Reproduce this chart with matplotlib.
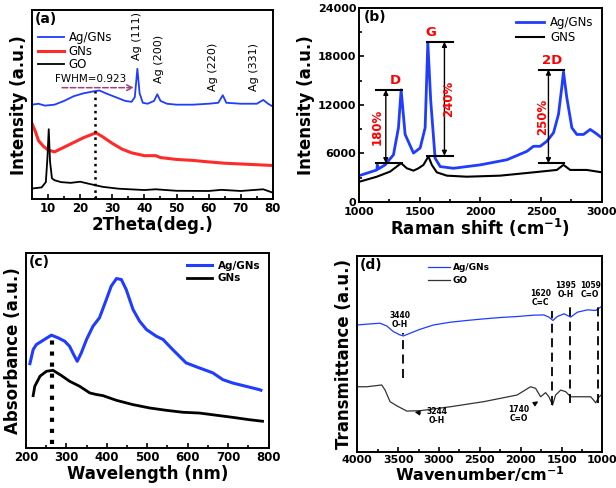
import numpy as np
import matplotlib
matplotlib.use("Agg")
import matplotlib.pyplot as plt
from matplotlib.ticker import AutoMinorLocator

plt.rcParams['font.family'] = 'DejaVu Sans'
plt.rcParams['axes.linewidth'] = 1.4

BLUE = '#1f3cff'
RED = '#ff2a2a'

# (a) XRD
xrd_ag_x = [5, 7, 9, 12, 15, 18, 21, 24, 26, 28, 31, 34, 36, 37, 37.8, 38.5, 39.5, 41, 43, 44, 45, 47,
            50, 55, 60, 63, 64.4, 65.5, 70, 75, 77, 78.5, 80]
xrd_ag_y = [50, 50.5, 49.5, 50, 52, 54.5, 56, 57, 57.5, 56, 54, 52, 51.5, 54, 69, 56, 51, 50.5, 52, 55.5, 52, 50.5,
            50, 50, 50.5, 51, 55, 51, 50.5, 50.5, 52.5, 50.5, 49]
xrd_gn_x = [5, 6, 7, 8.5, 10, 12, 15, 18, 21, 24, 25, 27, 30, 33, 36, 40, 43.5, 45, 50, 55, 60, 65, 70, 75, 80]
xrd_gn_y = [40, 36, 31, 28, 26, 25, 27.5, 30, 32.5, 34.5, 35, 33, 29.5, 26.5, 24.5, 23, 23, 22, 21, 20.5, 19.7,
            19, 18.6, 18.2, 17.8]
xrd_go_x = [5, 8, 9.3, 9.8, 10.2, 10.6, 11.2, 12, 14, 17, 20, 23, 27, 32, 40, 43.5, 50, 60, 64, 70, 77, 80]
xrd_go_y = [5.6, 6.2, 9, 22, 37, 20, 11, 10, 9, 8.6, 9.2, 8, 6.5, 5.5, 4.8, 5.2, 4.4, 4.3, 4.9, 4.3, 5.2, 3.4]
ag_peaks = [37.6, 44.4, 61.3, 74.0]
ag_labels = ['Ag (111)', 'Ag (200)', 'Ag (220)', 'Ag (331)']
ag_label_y = [73.5, 61.5, 57.5, 57.5]

# (b) Raman
ram_ag_x = [1000, 1146, 1150, 1160, 1214, 1283, 1324, 1346, 1379, 1448, 1503, 1544, 1566, 1590, 1626, 1668,
            1777, 1997, 2217, 2382, 2437, 2492, 2547, 2602, 2643, 2670, 2684, 2711, 2753, 2794, 2849, 2904, 2945, 3000]
ram_ag_y = [3255, 3965, 4600, 4100, 4590, 5840, 9180, 13860, 8350, 6050, 6680, 9180, 19700, 12520, 5430, 4380,
            4170, 4590, 5220, 6260, 6890, 6890, 7510, 8560, 10850, 14190, 16070, 12940, 9180, 8350, 8350, 8970,
            8560, 7930]
ram_gn_x = [1000, 1146, 1255, 1310, 1346, 1393, 1448, 1489, 1530, 1571, 1599, 1640, 1723, 1887, 2162, 2437,
            2629, 2684, 2739, 2876, 3000]
ram_gn_y = [2500, 3130, 3760, 4380, 4800, 4170, 3880, 4170, 4590, 5640, 4590, 3670, 3260, 3130, 3260, 3670,
            3965, 4590, 3965, 3965, 3670]
ram_bands = ['D', 'G', '2D']
ram_pct = ['180%', '240%', '250%']
ram_top = [13860, 19790, 16360]
ram_bot = [4800, 5720, 4800]
ram_bar_x0 = [1140, 1558, 2486]
ram_bar_x1 = [1352, 1772, 2692]
ram_arrow_x = [1220, 1703, 2560]
ram_pct_x = [1150, 1735, 2515]
ram_band_x = [1297, 1593, 2590]

# (c) UV-vis
uv_ag_x = [210, 218, 226, 243, 263, 280, 296, 308, 318, 327, 337, 350, 366, 382, 399, 411, 424, 436, 448, 465,
           481, 498, 522, 539, 563, 596, 629, 662, 687, 711, 744, 777, 781]
uv_ag_y = [43.2, 50.4, 53, 55.2, 57.8, 56.4, 54.7, 52.1, 47.9, 44.4, 48.7, 55.6, 62.4, 66.7, 76.1, 82.9, 86.8,
           86.3, 81.2, 70.9, 65, 60.7, 57.3, 55.6, 50.4, 43.6, 41, 38.5, 35, 33.3, 31.6, 29.9, 29.6]
uv_gn_x = [218, 222, 235, 251, 267, 288, 308, 333, 358, 374, 391, 424, 465, 506, 547, 588, 629, 670, 711, 752, 785]
uv_gn_y = [26.8, 31.6, 36.8, 39.3, 39.8, 37.1, 34.2, 31.6, 28.2, 27.4, 26.8, 24.4, 22.2, 20.5, 19.3, 18.3, 17.9,
           16.8, 15.7, 14.5, 13.7]

# (d) FTIR
ir_ag_x = [4000, 3885, 3722, 3640, 3558, 3476, 3435, 3353, 3231, 3067, 2862, 2658, 2453, 2248, 2044, 1839,
           1716, 1655, 1606, 1552, 1470, 1389, 1307, 1184, 1082, 1041, 1000]
ir_ag_y = [64.7, 65.1, 65.6, 64.2, 61.3, 59.6, 59.1, 60.5, 62.5, 64.7, 66.1, 67, 67.8, 68.5, 69, 69.7, 69.8,
           68.7, 67, 69, 70.4, 68.7, 71.2, 72.4, 72.1, 73.3, 74.4]
ir_go_x = [4000, 3885, 3701, 3660, 3599, 3517, 3394, 3231, 2862, 2453, 2044, 1880, 1818, 1757, 1696, 1655,
           1610, 1573, 1511, 1450, 1389, 1266, 1143, 1082, 1041, 1000]
ir_go_y = [33.2, 33.2, 34.1, 31.5, 25.6, 23.5, 20.8, 21, 23, 25.6, 29, 33.2, 32.4, 28.1, 30.2, 28.1, 23.9, 29,
           31.5, 30.7, 28.1, 28.1, 28.1, 25, 28.1, 29.5]
ir_marks = [3440, 1620, 1395, 1059]
ir_mark_text = ['3440\nO-H', '1620\nC=C', '1395\nO-H', '1059\nC=O']
ir_text_x = [3480, 1757, 1446, 1150]
ir_mark_top = [60.5, 72, 75.8, 75.8]
ir_mark_bot = [37.5, 23.9, 24.7, 25]

fig = plt.figure(figsize=(6.16, 4.88), dpi=100)
ax_a = fig.add_axes([0.052, 0.592, 0.391, 0.387])
ax_b = fig.add_axes([0.583, 0.586, 0.394, 0.398])
ax_c = fig.add_axes([0.042, 0.082, 0.394, 0.400])
ax_d = fig.add_axes([0.580, 0.074, 0.398, 0.402])

for ax, fs in ((ax_a, 8.5), (ax_b, 8), (ax_c, 8.5), (ax_d, 8)):
    ax.tick_params(which='both', direction='in', labelsize=fs, width=1.2, pad=2)
    ax.tick_params(which='major', length=3.5)
    ax.tick_params(which='minor', length=2)
    ax.xaxis.set_minor_locator(AutoMinorLocator(2))
ax_b.tick_params(axis='x', pad=3.5)

# ---- (a)
ax_a.plot(xrd_ag_x, xrd_ag_y, color=BLUE, lw=1.3, label='Ag/GNs')
ax_a.plot(xrd_gn_x, xrd_gn_y, color=RED, lw=2.2, label='GNs')
ax_a.plot(xrd_go_x, xrd_go_y, color='black', lw=1.3, label='GO')
ax_a.plot([24.7, 24.7], [0, 57.5], color='black', ls=':', lw=1.8)
ax_a.annotate('', xy=(37.6, 59), xytext=(13.5, 59),
              arrowprops=dict(arrowstyle='->', color='#a0407a', ls='--', lw=1.1))
ax_a.text(12.2, 62, 'FWHM=0.923', fontsize=7.5)
for xp, t, yp in zip(ag_peaks, ag_labels, ag_label_y):
    ax_a.text(xp, yp, t, rotation=90, fontsize=8, ha='center', va='bottom')
ax_a.set_xlim(5, 80)
ax_a.set_ylim(0, 100)
ax_a.set_yticks([])
ax_a.set_xticks(range(10, 81, 10))
ax_a.set_xlabel('2Theta(deg.)', fontsize=12, fontweight='bold', labelpad=1)
ax_a.set_ylabel('Intensity (a.u.)', fontsize=12, fontweight='bold', labelpad=3)
ax_a.text(0.01, 0.99, '(a)', transform=ax_a.transAxes, fontsize=10, fontweight='bold', va='top')
ax_a.legend(loc='upper left', bbox_to_anchor=(0.0, 0.92), frameon=False, fontsize=8.5,
            handlelength=2.2, handletextpad=0.4, labelspacing=0.05, borderaxespad=0.1)

# ---- (b)
ax_b.plot(ram_ag_x, ram_ag_y, color=BLUE, lw=2, label='Ag/GNs')
ax_b.plot(ram_gn_x, ram_gn_y, color='black', lw=1.5, label='GNS')
for i in range(3):
    ax_b.plot([ram_bar_x0[i], ram_bar_x1[i]], [ram_top[i]] * 2, color='black', lw=1.5)
    ax_b.plot([ram_bar_x0[i], ram_bar_x1[i]], [ram_bot[i]] * 2, color='black', lw=1.5)
    ax_b.annotate('', xy=(ram_arrow_x[i], ram_top[i]), xytext=(ram_arrow_x[i], ram_bot[i]),
                  arrowprops=dict(arrowstyle='<|-|>', color='black', lw=1, mutation_scale=7,
                                  shrinkA=0, shrinkB=0))
    ax_b.text(ram_pct_x[i], (ram_top[i] + ram_bot[i]) / 2, ram_pct[i], color='red', rotation=90,
              fontsize=8.5, fontweight='bold', ha='center', va='center')
    ax_b.text(ram_band_x[i], ram_top[i] + 300, ram_bands[i], color='red', fontsize=9.5,
              fontweight='bold', ha='center', va='bottom')
ax_b.set_xlim(1000, 3000)
ax_b.set_ylim(0, 24000)
ax_b.set_xticks(range(1000, 3001, 500))
ax_b.set_yticks(range(0, 24001, 6000))
ax_b.yaxis.set_minor_locator(AutoMinorLocator(2))
ax_b.set_xlabel('Raman shift (cm$^{\\mathbf{-1}}$)', fontsize=12, fontweight='bold', labelpad=0)
ax_b.set_ylabel('Intensity (a.u.)', fontsize=12, fontweight='bold', labelpad=2)
ax_b.text(0.02, 0.99, '(b)', transform=ax_b.transAxes, fontsize=10, fontweight='bold', va='top')
ax_b.legend(loc='upper right', frameon=False, fontsize=8.5, handlelength=2.4, labelspacing=0.2,
            handletextpad=0.5, borderaxespad=0.3)

# ---- (c)
ax_c.plot(uv_ag_x, uv_ag_y, color=BLUE, lw=2.2, label='Ag/GNs')
ax_c.plot(uv_gn_x, uv_gn_y, color='black', lw=2, label='GNs')
ax_c.plot([265, 265], [2.2, 57.5], color='black', ls=':', lw=3)
ax_c.set_xlim(200, 800)
ax_c.set_ylim(0, 100)
ax_c.set_yticks([])
ax_c.set_xticks(range(200, 801, 100))
ax_c.set_xlabel('Wavelength (nm)', fontsize=12, fontweight='bold', labelpad=1)
ax_c.set_ylabel('Absorbance (a.u.)', fontsize=12, fontweight='bold', labelpad=3)
ax_c.text(0.01, 0.99, '(c)', transform=ax_c.transAxes, fontsize=10, fontweight='bold', va='top')
leg = ax_c.legend(loc='upper right', frameon=False, fontsize=7.5, handlelength=2.4, labelspacing=0.2,
                  handletextpad=0.5, borderaxespad=0.4)
for t in leg.get_texts():
    t.set_fontweight('bold')

# ---- (d)
ax_d.plot(ir_ag_x, ir_ag_y, color=BLUE, lw=0.9, label='Ag/GNs')
ax_d.plot(ir_go_x, ir_go_y, color='#333333', lw=0.9, label='GO')
for xm, xt, t, yt, yb in zip(ir_marks, ir_text_x, ir_mark_text, ir_mark_top, ir_mark_bot):
    ax_d.plot([xm, xm], [yb, yt], color='black', ls=(0, (5, 3)), lw=1.3)
    ax_d.text(xt, yt + 2, t, fontsize=5.5, fontweight='bold', ha='center', va='bottom',
              linespacing=1.0)
ax_d.annotate('3244\nO-H', xy=(3330, 20.5), xytext=(3030, 18.5), fontsize=5.5, fontweight='bold',
              ha='center', va='center', linespacing=1.0,
              arrowprops=dict(arrowstyle='-|>', color='black', lw=0.8, mutation_scale=7))
ax_d.annotate('1740\nC=O', xy=(1757, 26.5), xytext=(2020, 19.5), fontsize=5.5, fontweight='bold',
              ha='center', va='center', linespacing=1.0,
              arrowprops=dict(arrowstyle='-|>', color='black', lw=0.8, mutation_scale=7))
ax_d.set_xlim(4000, 1000)
ax_d.set_ylim(0, 100)
ax_d.set_yticks([])
ax_d.set_xticks(range(4000, 999, -500))
ax_d.set_xlabel('Wavenumber/cm$^{\\mathbf{-1}}$', fontsize=11.5, fontweight='bold', labelpad=0)
ax_d.set_ylabel('Transmittance (a.u.)', fontsize=12, fontweight='bold', labelpad=3)
ax_d.text(0.01, 0.99, '(d)', transform=ax_d.transAxes, fontsize=10, fontweight='bold', va='top')
leg = ax_d.legend(loc='upper left', bbox_to_anchor=(0.26, 1.0), frameon=False, fontsize=6.5,
                  handlelength=2.4, labelspacing=0.5, handletextpad=0.3, borderaxespad=0.4)
for t in leg.get_texts():
    t.set_fontweight('bold')

for ax in (ax_a, ax_b, ax_c, ax_d):
    for lab in ax.get_xticklabels() + ax.get_yticklabels():
        lab.set_fontweight('bold')

fig.savefig('out.png', dpi=100)
